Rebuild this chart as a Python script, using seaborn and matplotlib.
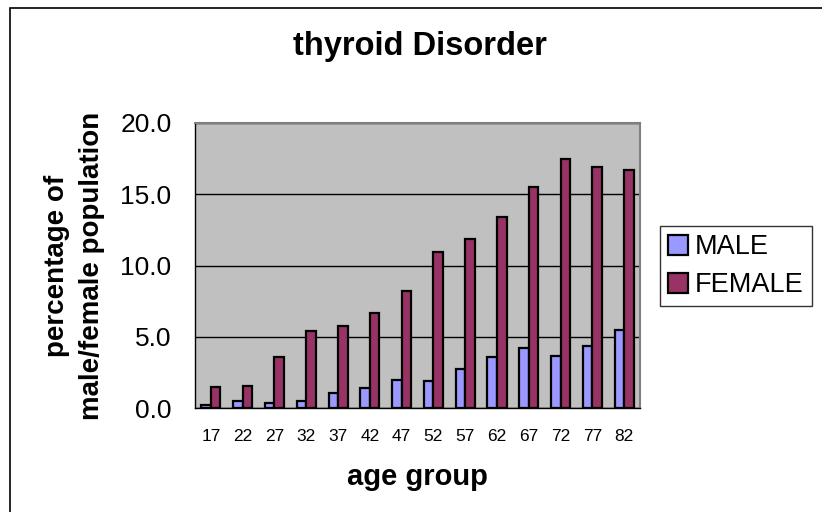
import matplotlib
matplotlib.use("Agg")
import matplotlib.pyplot as plt
import seaborn as sns
import pandas as pd
from matplotlib.patches import Rectangle, Patch

age_groups = ["17", "22", "27", "32", "37", "42", "47", "52", "57", "62", "67", "72", "77", "82"]
male = [0.21, 0.49, 0.35, 0.49, 1.03, 1.38, 1.96, 1.89, 2.73, 3.59, 4.18, 3.66, 4.34, 5.46]
female = [1.47, 1.56, 3.55, 5.37, 5.72, 6.65, 8.22, 10.92, 11.87, 13.37, 15.50, 17.47, 16.93, 16.70]
series = ["MALE", "FEMALE"]
colors = ["#9999FF", "#993366"]

df = pd.DataFrame({
    "age": age_groups * 2,
    "value": male + female,
    "sex": [series[0]] * len(age_groups) + [series[1]] * len(age_groups),
})

sns.set_style("white")
plt.rcParams["font.family"] = ["Liberation Sans", "DejaVu Sans"]
plt.rcParams["text.color"] = "black"
plt.rcParams["axes.labelcolor"] = "black"
plt.rcParams["xtick.color"] = "black"
plt.rcParams["ytick.color"] = "black"

W, H = 822, 512
fig = plt.figure(figsize=(W / 100, H / 100), dpi=100)
ax = fig.add_axes([195 / W, 1 - 408 / H, (640 - 195) / W, (408 - 123) / H])

sns.barplot(data=df, x="age", y="value", hue="sex", palette=colors, ax=ax,
            width=0.6, edgecolor="black", linewidth=1.6, saturation=1, legend=False)

ax.set_facecolor("#C0C0C0")
ax.set_ylim(0, 20)
ax.set_xlim(-0.5, len(age_groups) - 0.5)
ax.set_yticks([0, 5, 10, 15, 20])
ax.set_yticklabels([f"{v:.1f}" for v in [0, 5, 10, 15, 20]], fontsize=19)
ax.set_xticks([i for i in range(len(age_groups))])
ax.set_xticklabels(age_groups, fontsize=12.5)
ax.set_xticks([i - 0.5 for i in range(len(age_groups) + 1)], minor=True)
ax.tick_params(axis="x", which="major", length=0, pad=15)
ax.tick_params(axis="x", which="minor", length=6, width=1, color="black", direction="out")
ax.tick_params(axis="y", length=8, width=1, color="black", direction="out", pad=9)
ax.yaxis.grid(True, color="black", linewidth=1)
ax.set_axisbelow(True)
for s in ["top", "right"]:
    ax.spines[s].set_color("#808080")
    ax.spines[s].set_linewidth(1.5)
for s in ["left", "bottom"]:
    ax.spines[s].set_color("black")
    ax.spines[s].set_linewidth(1)

ax.set_xlabel("age group", fontsize=21, fontweight="bold")
ax.xaxis.set_label_coords(0.5, -(477 - 408) / (408 - 123), transform=ax.transAxes)
ax.xaxis.label.set_va("center")
ax.set_ylabel("percentage of\nmale/female population", fontsize=20, fontweight="bold",
              linespacing=1.45)
ax.yaxis.set_label_coords(-(195 - 74) / (640 - 195), 0.5, transform=ax.transAxes)
ax.yaxis.label.set_va("center")
fig.text(419.5 / W, 1 - 47 / H, "thyroid Disorder", fontsize=23.5, fontweight="bold",
         ha="center", va="center")

handles = [Patch(facecolor=c, edgecolor="black", linewidth=1.6) for c in colors]
leg = fig.legend(handles, series, loc="upper left", bbox_to_anchor=(660 / W, 1 - 226 / H),
                 fontsize=19.5, frameon=True, fancybox=False, edgecolor="black",
                 handlelength=0.75, handleheight=0.75, handletextpad=0.25, borderpad=0.3,
                 labelspacing=0.45, borderaxespad=0)
leg.get_frame().set_linewidth(1)

fig.patches.append(Rectangle((10 / W, -0.1), 1.2, 1 - 8 / H + 0.1, transform=fig.transFigure,
                             fill=False, edgecolor="black", linewidth=1.2, zorder=-1))

fig.savefig("out.png", dpi=100)
